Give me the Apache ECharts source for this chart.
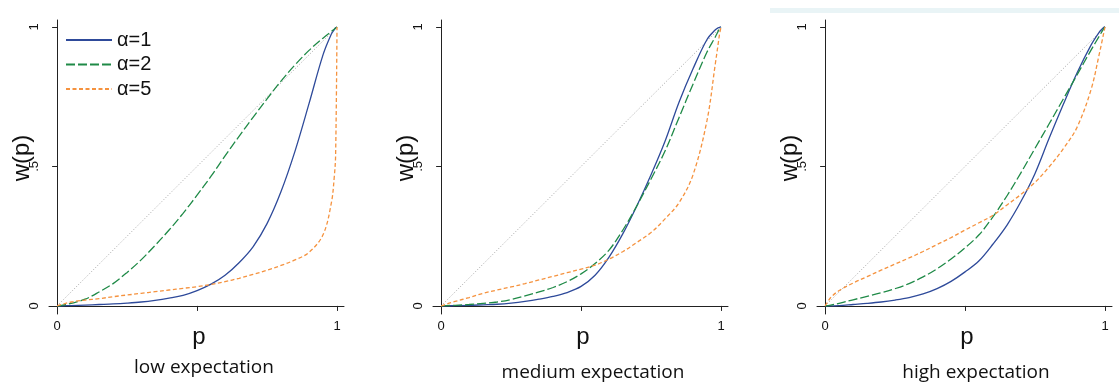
<!DOCTYPE html>
<html>
<head>
<meta charset="utf-8">
<script src="https://cdn.jsdelivr.net/npm/echarts@6/dist/echarts.min.js"></script>
<style>
  html, body { margin: 0; padding: 0; background: #fff; }
  #chart { width: 1119px; height: 386px; }
</style>
</head>
<body>
<div id="chart"></div>
<script>
// probability grid shared by all curves
const P = [0, 0.02, 0.05, 0.1, 0.15, 0.2, 0.25, 0.3, 0.35, 0.4, 0.45, 0.5, 0.55,
  0.6, 0.65, 0.7, 0.75, 0.8, 0.85, 0.9, 0.95, 0.98, 0.99, 0.995, 1];

const panels = ["low expectation", "medium expectation", "high expectation"];
const alphas = ["α=1", "α=2", "α=5"];

// low expectation
const lowA1 = [0, 0.0005, 0.001, 0.003, 0.005, 0.007, 0.01, 0.014, 0.02, 0.028, 0.038, 0.055, 0.078,
  0.11, 0.155, 0.212, 0.295, 0.41, 0.555, 0.725, 0.9, 0.975, 0.99, 0.997, 1];
const lowA2 = [0, 0.003, 0.009, 0.024, 0.05, 0.08, 0.12, 0.165, 0.217, 0.272, 0.332, 0.397, 0.465,
  0.538, 0.608, 0.676, 0.742, 0.806, 0.864, 0.916, 0.96, 0.984, 0.992, 0.996, 1];
const lowA5 = [0, 0.006, 0.014, 0.021, 0.026, 0.033, 0.039, 0.045, 0.051, 0.057, 0.063, 0.069, 0.077,
  0.087, 0.099, 0.113, 0.128, 0.145, 0.165, 0.192, 0.255, 0.37, 0.46, 0.54, 1];

// medium expectation
const medA1 = [0, 0.0003, 0.001, 0.002, 0.004, 0.006, 0.01, 0.016, 0.024, 0.034, 0.048, 0.07, 0.11,
  0.175, 0.26, 0.36, 0.47, 0.59, 0.73, 0.85, 0.955, 0.99, 0.997, 0.999, 1];
const medA2 = [0, 0.001, 0.002, 0.005, 0.009, 0.014, 0.023, 0.036, 0.05, 0.066, 0.087, 0.115, 0.152,
  0.2, 0.273, 0.36, 0.455, 0.555, 0.675, 0.795, 0.91, 0.965, 0.985, 0.993, 1];
const medA5 = [0, 0.007, 0.016, 0.03, 0.045, 0.057, 0.068, 0.08, 0.093, 0.106, 0.119, 0.132, 0.146,
  0.168, 0.195, 0.228, 0.263, 0.312, 0.37, 0.47, 0.665, 0.87, 0.94, 0.975, 1];

// high expectation
const highA1 = [0, 0.0003, 0.001, 0.005, 0.009, 0.014, 0.021, 0.03, 0.043, 0.062, 0.088, 0.122, 0.162,
  0.222, 0.29, 0.375, 0.475, 0.6, 0.72, 0.835, 0.935, 0.982, 0.993, 0.998, 1];
const highA2 = [0, 0.003, 0.009, 0.022, 0.034, 0.047, 0.062, 0.08, 0.104, 0.133, 0.168, 0.208, 0.255,
  0.32, 0.395, 0.478, 0.565, 0.652, 0.74, 0.828, 0.917, 0.968, 0.985, 0.993, 1];
const highA5 = [0, 0.03, 0.055, 0.082, 0.105, 0.128, 0.15, 0.172, 0.195, 0.22, 0.245, 0.272, 0.298,
  0.325, 0.362, 0.4, 0.443, 0.498, 0.562, 0.64, 0.775, 0.905, 0.952, 0.976, 1];

const curves = [[lowA1, lowA2, lowA5], [medA1, medA2, medA5], [highA1, highA2, highA5]];
const diagonal = [0, 1];

const colors = ["#2e4a9a", "#1f8a47", "#f5923e"];
const dashes = ["solid", [9, 3], [4, 2.5]];
const gridLeft = [49, 433, 817];
const titleX = [204, 593, 976];
const titleY = [368, 373, 373];

const chart = echarts.init(document.getElementById("chart"), null, { renderer: "canvas" });

const grids = [], xAxes = [], yAxes = [], series = [], graphics = [];

gridLeft.forEach((left, k) => {
  grids.push({ left: left, top: 20, width: 295, height: 294 });
  xAxes.push({
    type: "value",
    gridIndex: k,
    min: -0.029,
    max: 1.025,
    axisLine: { show: true, lineStyle: { color: "#222", width: 1 } },
    axisTick: { show: true, length: 5, lineStyle: { color: "#222" }, customValues: [0, 0.5, 1] },
    axisLabel: {
      customValues: [0, 1],
      fontFamily: "Liberation Sans", fontSize: 13, color: "#111", margin: 6,
    },
    splitLine: { show: false },
  });
  yAxes.push({
    type: "value",
    gridIndex: k,
    min: -0.029,
    max: 1.025,
    axisLine: { show: true, lineStyle: { color: "#222", width: 1 } },
    axisTick: { show: true, length: 5, lineStyle: { color: "#222" }, customValues: [0, 0.5, 1] },
    axisLabel: {
      customValues: [0, 0.5, 1],
      rotate: 90,
      fontFamily: "Liberation Sans", fontSize: 13, color: "#111", margin: 8,
      formatter: (v) => (v === 0.5 ? ".5" : String(v)),
    },
    splitLine: { show: false },
  });

  series.push({
    type: "line",
    xAxisIndex: k,
    yAxisIndex: k,
    data: diagonal.map((v) => [v, v]),
    symbol: "none",
    silent: true,
    lineStyle: { color: "#999", width: 0.9, type: [1, 2] },
  });

  curves[k].forEach((vals, j) => {
    series.push({
      name: alphas[j],
      type: "line",
      xAxisIndex: k,
      yAxisIndex: k,
      data: P.map((p, i) => [p, vals[i]]),
      symbol: "none",
      smooth: 0.35,
      color: colors[j],
      lineStyle: { color: colors[j], width: 1.3, type: dashes[j] },
    });
  });

  // axis titles as text, placed where the source has them
  graphics.push({
    type: "text",
    x: left - 27,
    y: 158,
    rotation: Math.PI / 2,
    style: {
      text: "w(p)",
      fontFamily: "Liberation Sans",
      fontSize: 24,
      fill: "#111",
      align: "center",
      verticalAlign: "middle",
    },
  });
  graphics.push({
    type: "text",
    x: left + 150,
    y: 337,
    style: {
      text: "p",
      fontFamily: "Liberation Sans",
      fontSize: 24,
      fill: "#111",
      align: "center",
      verticalAlign: "middle",
    },
  });

  graphics.push({
    type: "text",
    x: titleX[k],
    y: titleY[k],
    style: {
      text: panels[k],
      fontFamily: "Open Sans",
      fontSize: 19,
      fill: "#111",
      align: "center",
      verticalAlign: "middle",
    },
  });
});

// faint band across the top of the right panel
graphics.push({
  type: "rect",
  shape: { x: 770, y: 8, width: 349, height: 5 },
  style: { fill: "#e9f4f6" },
});

chart.setOption({
  animation: false,
  backgroundColor: "#fff",
  legend: {
    data: alphas,
    orient: "vertical",
    left: 60,
    top: 25,
    itemWidth: 46,
    itemHeight: 14,
    itemGap: 4.5,
    itemStyle: { opacity: 0 },
    textStyle: { fontFamily: "Liberation Sans", fontSize: 20, color: "#111", lineHeight: 20 },
    selectedMode: false,
  },
  grid: grids,
  xAxis: xAxes,
  yAxis: yAxes,
  series: series,
  graphic: graphics,
});
</script>
</body>
</html>
